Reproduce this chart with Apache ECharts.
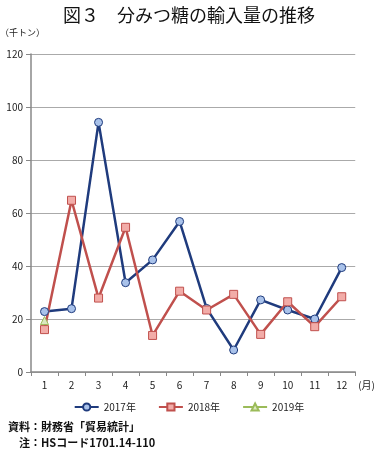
<!DOCTYPE html>
<html><head><meta charset="utf-8">
<script src="https://cdn.jsdelivr.net/npm/echarts@6/dist/echarts.min.js"></script>
<style>html,body{margin:0;padding:0;background:#fff}#c{width:378px;height:453px}</style>
</head><body><div id="c"></div>
<script>
var months = ['1','2','3','4','5','6','7','8','9','10','11','12'];
var y2017 = [22.8, 23.9, 94.2, 33.7, 42.3, 56.8, 24.0, 8.3, 27.2, 23.4, 20.0, 39.4];
var y2018 = [16.0, 64.8, 27.9, 54.6, 13.8, 30.5, 23.4, 29.3, 14.2, 26.5, 17.1, 28.4];
var y2019 = [19.4, null, null, null, null, null, null, null, null, null, null, null];
var yTicks = [0, 20, 40, 60, 80, 100, 120];

var FONT = '"Noto Sans CJK JP", sans-serif';
var chart = echarts.init(document.getElementById('c'), null, {renderer:'canvas'});
chart.setOption({
  animation:false,
  backgroundColor:'#fff',
  textStyle:{fontFamily:FONT},
  title:{text:'図３　分みつ糖の輸入量の推移', left:'center', top:1,
    textStyle:{fontFamily:FONT, fontSize:18, fontWeight:'normal', color:'#111'}},
  grid:{left:31, right:15, top:54, bottom:81},
  xAxis:{type:'category', data:months, boundaryGap:true,
    name:'(月)', nameLocation:'end', nameGap:3,
    nameTextStyle:{fontSize:10, color:'#222', verticalAlign:'top', padding:[8,0,0,0]},
    axisLine:{lineStyle:{color:'#888', width:1.5}},
    axisTick:{show:true, length:4, inside:false, lineStyle:{color:'#888'}},
    axisLabel:{fontSize:10, color:'#222', margin:8}},
  yAxis:{type:'value', min:yTicks[0], max:yTicks[yTicks.length-1], interval:20,
    axisLine:{show:true, lineStyle:{color:'#888', width:1.5}},
    axisTick:{show:true, length:5, lineStyle:{color:'#888'}},
    splitLine:{lineStyle:{color:'#aaa', width:1.2}},
    axisLabel:{fontSize:10, color:'#222', margin:8}},
  legend:{bottom:36, left:'center', itemWidth:24, itemHeight:9, itemGap:22,
    textStyle:{fontSize:10, color:'#222', fontFamily:FONT},
    data:['2017年','2018年','2019年']},
  graphic:[
    {type:'text', left:0, top:28, style:{text:'（千トン）', fontSize:9, fill:'#222', fontFamily:FONT}},
    {type:'text', left:8, top:421, style:{text:'資料：財務省「貿易統計」', fontSize:11, fill:'#111', fontFamily:FONT, fontWeight:'bold'}},
    {type:'text', left:8, top:437, style:{text:'　注：HSコード1701.14-110', fontSize:11, fill:'#111', fontFamily:FONT, fontWeight:'bold'}}
  ],
  series:[
    {name:'2017年', type:'line', data:y2017, symbol:'circle', symbolSize:8,
      lineStyle:{color:'#1f3b7d', width:2.5},
      itemStyle:{color:'#a9c2ea', borderColor:'#1f3b7d', borderWidth:1}},
    {name:'2018年', type:'line', data:y2018, symbol:'rect', symbolSize:8,
      lineStyle:{color:'#c0504d', width:2.5},
      itemStyle:{color:'#f2aca8', borderColor:'#c0504d', borderWidth:1}},
    {name:'2019年', type:'line', data:y2019, symbol:'triangle', symbolSize:8,
      lineStyle:{color:'#9bbb59', width:2.5},
      itemStyle:{color:'#dbe8c0', borderColor:'#9bbb59', borderWidth:1}}
  ]
});
</script></body></html>
